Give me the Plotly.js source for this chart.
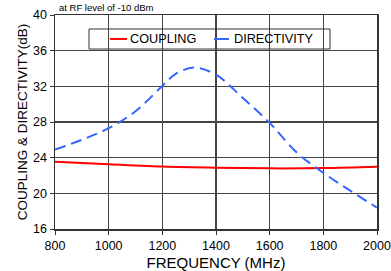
<!DOCTYPE html>
<html><head><meta charset="utf-8">
<script src="https://cdn.plot.ly/plotly-3.0.1.min.js"></script>
<style>html,body{margin:0;padding:0;background:#fff}#c{width:391px;height:271px}</style>
</head><body><div id="c"></div>
<script>
const freqCoupling = [800, 1000, 1200, 1400, 1600, 1800, 2000];
const coupling = [23.55, 23.25, 23.0, 22.87, 22.8, 22.83, 22.98];
const freqDirectivity = [800, 900, 1000, 1100, 1200, 1250, 1320, 1400, 1500, 1600, 1700, 1800, 1900, 2000];
const directivity = [24.9, 26.0, 27.3, 29.2, 32.05, 33.4, 34.1, 33.3, 30.7, 27.9, 24.6, 22.3, 20.3, 18.4];
const seriesNames = ['COUPLING', 'DIRECTIVITY'];
const seriesColors = ['#ff0000', '#3366ff'];
const yTicks = [16, 20, 24, 28, 32, 36, 40];
const xTicks = [800, 1000, 1200, 1400, 1600, 1800, 2000];

const font = {family: 'Liberation Sans, Arial, sans-serif', color: '#000'};

// manual legend (box + symbol lines + labels) in paper coordinates
const legY = 0.888;
const legItems = [{x0: 0.171, x1: 0.2236, tx: 0.2267}, {x0: 0.4938, x1: 0.5404, tx: 0.5497}];
const shapes = [{type: 'rect', xref: 'paper', yref: 'paper', x0: 0.1056, x1: 0.854, y0: 0.841, y1: 0.9346,
  line: {color: '#333', width: 1}, fillcolor: 'rgba(0,0,0,0)', layer: 'above'}];
const annotations = [{text: 'at RF level of -10 dBm', xref: 'paper', yref: 'paper',
  x: 0.005, y: 1, xanchor: 'left', yanchor: 'bottom', showarrow: false,
  font: Object.assign({size: 9.5}, font)}];
legItems.forEach((it, i) => {
  shapes.push({type: 'line', xref: 'paper', yref: 'paper', x0: it.x0, x1: it.x1, y0: legY, y1: legY,
    line: {color: seriesColors[i], width: 2}, layer: 'above'});
  annotations.push({text: seriesNames[i], xref: 'paper', yref: 'paper', x: it.tx, y: legY,
    xanchor: 'left', yanchor: 'middle', showarrow: false, font: Object.assign({size: 12.7}, font)});
});

Plotly.newPlot('c', [
  {x: freqCoupling, y: coupling, name: seriesNames[0], mode: 'lines',
   line: {color: seriesColors[0], width: 2, shape: 'spline'}},
  {x: freqDirectivity, y: directivity, name: seriesNames[1], mode: 'lines',
   line: {color: seriesColors[1], width: 2, dash: '11px,6px', shape: 'spline'}}
], {
  width: 391, height: 271,
  margin: {l: 55, r: 14, t: 15, b: 42},
  paper_bgcolor: '#fff', plot_bgcolor: '#fff',
  font: Object.assign({size: 12}, font),
  showlegend: false,
  shapes: shapes,
  annotations: annotations,
  xaxis: {range: [800, 2000], tickvals: xTicks, ticktext: xTicks.map(String),
    showgrid: true, gridcolor: '#444', gridwidth: 1.2,
    showline: true, linecolor: '#333', linewidth: 1.5, mirror: true,
    ticks: 'outside', ticklen: 4, tickcolor: '#333', zeroline: false,
    tickfont: Object.assign({size: 12.5}, font),
    title: {text: 'FREQUENCY (MHz)', font: Object.assign({size: 15}, font), standoff: 6}},
  yaxis: {range: [16, 40], tickvals: yTicks, ticktext: yTicks.map(String),
    showgrid: true, gridcolor: '#444', gridwidth: 1.2,
    showline: true, linecolor: '#333', linewidth: 1.5, mirror: true,
    ticks: 'outside', ticklen: 4, tickcolor: '#333', zeroline: false,
    tickfont: Object.assign({size: 12.5}, font),
    title: {text: 'COUPLING & DIRECTIVITY(dB)', font: Object.assign({size: 13.5}, font), standoff: 2}}
}, {displayModeBar: false, staticPlot: true});
</script></body></html>
